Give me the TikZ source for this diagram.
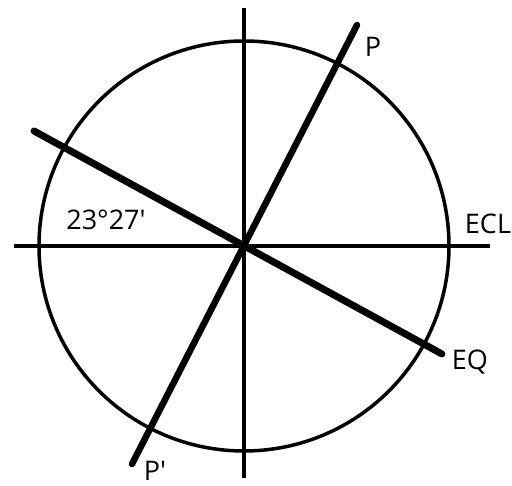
\documentclass[tikz,border=0pt]{standalone}
\usepackage{fontspec}
\setmainfont{Open Sans}
\usepackage{tikz}
\usetikzlibrary{positioning, calc}

\tikzset{
  axisline/.style={line width=3.5pt, black},
  poleline/.style={line width=6.5pt, black, line cap=round},
  eqline/.style={line width=7pt, black, line cap=round},
  tag/.style={inner sep=0pt, font=\fontsize{27}{32}\selectfont}
}

\begin{document}
\begin{tikzpicture}[x=1pt, y=-1pt]
\useasboundingbox[fill=white] (0,0) rectangle (512,486);

% centre and sphere
\coordinate (O) at (244,246);
\draw[axisline] (O) circle[radius=205pt];

% ecliptic plane and its axis
\coordinate (eclW) at (14,246);
\coordinate (eclE) at (490,246);
\coordinate (axN) at (244,8);
\coordinate (axS) at (244,478);
\draw[axisline] (eclW) -- (eclE);
\draw[axisline] (axN) -- (axS);

% celestial poles and equator
\coordinate (poleN) at (357,25);
\coordinate (poleS) at (132,464);
\coordinate (eqW) at (34,131);
\coordinate (eqE) at (442,354);
\draw[poleline] (poleS) -- (poleN);
\draw[eqline] (eqW) -- (eqE);

% labels
\node[tag] (P) at (373,47) {P};
\node[tag] (Pp) at (155,471) {P\textquotesingle};
\node[tag] (ECL) at (488,224) {ECL};
\node[tag] (EQ) at (470,362) {EQ};
\node[tag] (ang) at (106,220) {23°27\textquotesingle};
\end{tikzpicture}
\end{document}
